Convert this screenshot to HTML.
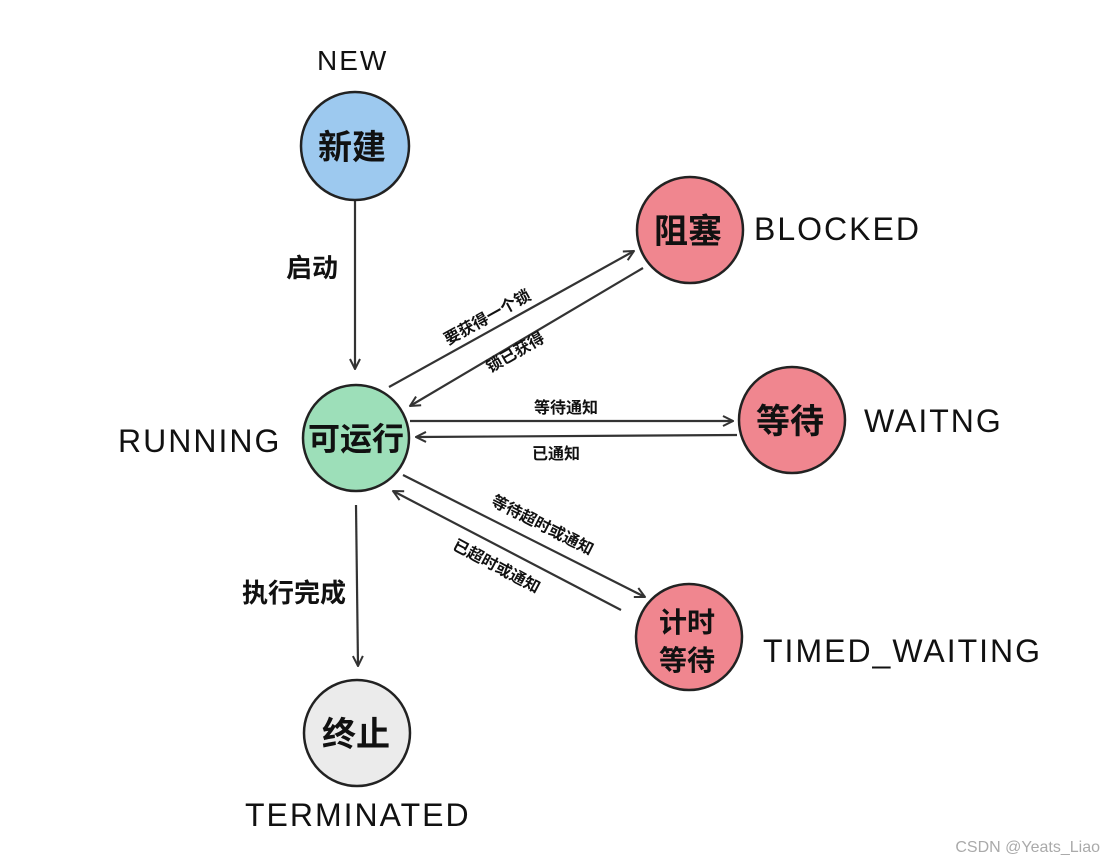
<!DOCTYPE html>
<html><head><meta charset="utf-8"><style>
html,body{margin:0;padding:0;background:#fff}
svg{display:block}
.cn{font-family:"Liberation Sans","Noto Sans CJK SC",sans-serif;font-weight:bold;fill:#111}
.en{font-family:"Liberation Sans","DejaVu Sans",sans-serif;fill:#111;letter-spacing:2px}
</style></head><body>
<svg width="1116" height="865" viewBox="0 0 1116 865" xmlns="http://www.w3.org/2000/svg">
<defs>
<marker id="a" viewBox="0 0 12 12" refX="11" refY="6" markerWidth="12" markerHeight="12" markerUnits="userSpaceOnUse" orient="auto">
<path d="M1,1 L11,6 L1,11" fill="none" stroke="#333" stroke-width="2"/>
</marker>
</defs>
<g stroke="#333" stroke-width="2.2" fill="none" marker-end="url(#a)">
<line x1="355" y1="198" x2="355" y2="369"/>
<line x1="389" y1="387" x2="634" y2="251"/>
<line x1="643" y1="268" x2="410" y2="406"/>
<line x1="410" y1="421" x2="733" y2="421"/>
<line x1="737" y1="435" x2="416" y2="437"/>
<line x1="403" y1="475" x2="645" y2="597"/>
<line x1="621" y1="610" x2="393" y2="491"/>
<line x1="356" y1="505" x2="358" y2="666"/>
</g>
<g stroke="#222" stroke-width="2.5">
<circle cx="355" cy="146" r="54" fill="#9dc9ef"/>
<circle cx="690" cy="230" r="53" fill="#f0868f"/>
<circle cx="792" cy="420" r="53" fill="#f0868f"/>
<circle cx="356" cy="438" r="53" fill="#9ddfb9"/>
<circle cx="689" cy="637" r="53" fill="#f0868f"/>
<circle cx="357" cy="733" r="53" fill="#ebebeb"/>
</g>
<g class="cn" text-anchor="middle">
<text x="352" y="159" font-size="34">新建</text>
<text x="688" y="243" font-size="34">阻塞</text>
<text x="790" y="433" font-size="34">等待</text>
<text x="356" y="450" font-size="32">可运行</text>
<text x="687" y="632" font-size="28">计时</text>
<text x="687" y="670" font-size="28">等待</text>
<text x="356" y="746" font-size="34">终止</text>
<text x="312" y="277" font-size="26">启动</text>
<text x="294" y="602" font-size="26">执行完成</text>
<text x="566" y="413" font-size="16">等待通知</text>
<text x="556" y="459" font-size="16">已通知</text>
<text font-size="16" transform="translate(490,322) rotate(-29)">要获得一个锁</text>
<text font-size="16" transform="translate(518,357) rotate(-30)">锁已获得</text>
<text font-size="16" transform="translate(540,530) rotate(27)">等待超时或通知</text>
<text font-size="16" transform="translate(494,571) rotate(28)">已超时或通知</text>
</g>
<g class="en">
<text x="317" y="70" font-size="28">NEW</text>
<text x="754" y="240" font-size="32">BLOCKED</text>
<text x="864" y="432" font-size="32">WAITNG</text>
<text x="118" y="452" font-size="32">RUNNING</text>
<text x="763" y="662" font-size="32">TIMED_WAITING</text>
<text x="245" y="826" font-size="32">TERMINATED</text>
</g>
<text x="1100" y="852" text-anchor="end" font-family="Liberation Sans, sans-serif" font-size="16" fill="#aaa">CSDN @Yeats_Liao</text>
</svg>
</body></html>
